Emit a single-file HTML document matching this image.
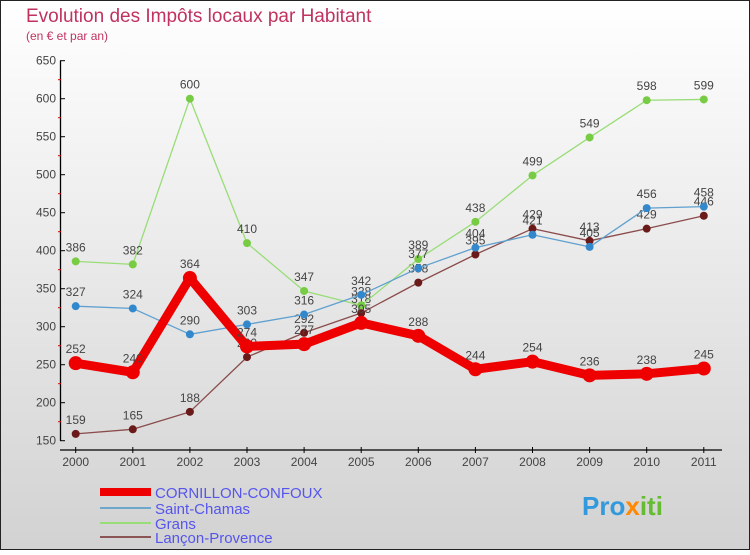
<!DOCTYPE html>
<html><head><meta charset="utf-8"><style>
body{margin:0;width:750px;height:550px;overflow:hidden;font-family:"Liberation Sans",sans-serif}
svg text{font-family:"Liberation Sans",sans-serif}
</style></head><body>
<svg id="c" width="750" height="550" xmlns="http://www.w3.org/2000/svg">
<defs><linearGradient id="bg" x1="0" y1="0" x2="0" y2="1"><stop offset="0" stop-color="#ffffff"/><stop offset="1" stop-color="#d2d2d2"/></linearGradient></defs>
<rect x="0.5" y="0.5" width="749" height="549" fill="url(#bg)" stroke="#222"/>
<text x="26" y="22" font-size="19" fill="#c0335e">Evolution des Impôts locaux par Habitant</text>
<text x="26" y="40" font-size="12" fill="#c0335e">(en € et par an)</text>
<g id="plot"></g>
<g>
<rect x="100" y="488" width="51" height="8" fill="#ee0000"/>
<text x="155" y="498" font-size="15" fill="#5555ee">CORNILLON-CONFOUX</text>
<rect x="100" y="507" width="51" height="2" fill="#6fa6cc"/>
<text x="155" y="514" font-size="15" fill="#5555ee">Saint-Chamas</text>
<rect x="100" y="522" width="51" height="2" fill="#99dd77"/>
<text x="155" y="529" font-size="15" fill="#5555ee">Grans</text>
<rect x="100" y="536" width="51" height="2" fill="#8b5555"/>
<text x="155" y="543" font-size="15" fill="#5555ee">Lançon-Provence</text>
</g>
<text x="582" y="515" font-size="26" font-weight="bold" fill="#3399dd">Pro<tspan fill="#ff8800">x</tspan><tspan fill="#66bb33">iti</tspan></text>
</svg>
<script>
const years=["2000","2001","2002","2003","2004","2005","2006","2007","2008","2009","2010","2011"];
const yTicks=[150,200,250,300,350,400,450,500,550,600,650];
const cornillon=[252,240,364,274,277,305,288,244,254,236,238,245];
const saintChamas=[327,324,290,303,316,342,377,404,421,405,456,458];
const grans=[386,382,600,410,347,328,389,438,499,549,598,599];
const lancon=[159,165,188,260,292,318,358,395,429,413,429,446];
const NS="http://www.w3.org/2000/svg";
const g=document.getElementById('plot');
const X=i=>75.7+i*57.1;
const Y=v=>440.7-(v-150)*0.76;
function mk(t,a){const e=document.createElementNS(NS,t);for(const k in a)e.setAttribute(k,a[k]);g.appendChild(e);return e;}
let e=mk('line',{x1:60.5,y1:Y(650),x2:60.5,y2:Y(150),stroke:'#000','stroke-width':1.3});


e=mk('line',{x1:60,y1:450,x2:722,y2:450,stroke:'#000','stroke-width':1.3});


yTicks.forEach((v,i)=>{
 const t=mk('line',{x1:60,y1:Y(v),x2:65,y2:Y(v),stroke:'#000'});
 
 
 if(i<yTicks.length-1){const m=mk('line',{x1:58,y1:Y(v+25),x2:61,y2:Y(v+25),stroke:'#d00'});
 
 }
 const l=mk('text',{x:56,y:Y(v)+4,'font-size':12,fill:'#444','text-anchor':'end'});l.textContent=v;
 
 
});
years.forEach((y,i)=>{
 const t=mk('line',{x1:X(i),y1:447,x2:X(i),y2:453,stroke:'#000'});
 
 
 const l=mk('text',{x:X(i),y:466,'font-size':12,fill:'#444','text-anchor':'middle'});l.textContent=y;
 
 
});
function series(data,color,dot,w,r,name){
 const p=mk('polyline',{points:data.map((v,i)=>X(i)+','+Y(v)).join(' '),fill:'none',stroke:color,'stroke-width':w,'stroke-linejoin':'round'});
 
 
 data.forEach((v,i)=>{
  const c=mk('circle',{cx:X(i),cy:Y(v),r:r,fill:dot});
  
  
  const l=mk('text',{x:X(i),y:Y(v)-10,'font-size':12,fill:'#444','text-anchor':'middle'});l.textContent=v;
  
  
 });
}
series(lancon,'#8b4c4c','#6b1a1a',1.3,4,'lancon');
series(grans,'#99dd77','#77cc44',1.3,4,'grans');
series(saintChamas,'#5fa0d0','#3388cc',1.3,4,'saint-chamas');
series(cornillon,'#ee0000','#ee0000',9,7,'cornillon');
</script>
</body></html>
